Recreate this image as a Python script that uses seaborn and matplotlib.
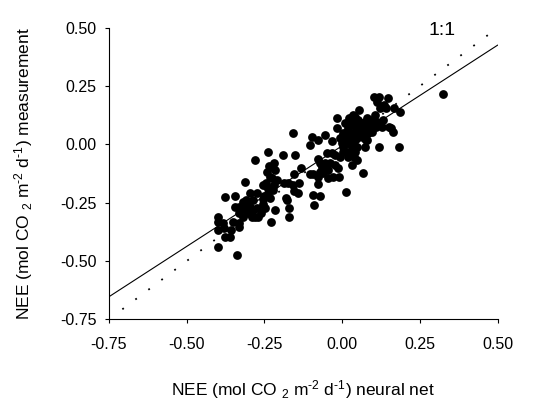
import matplotlib
matplotlib.use('Agg')
import matplotlib.pyplot as plt
import numpy as np
import seaborn as sns

nn_x = [
    -0.398, -0.398, -0.398, -0.401, -0.380, -0.377, -0.377, -0.359, -0.345, -0.345,
    -0.339, -0.331, -0.331, -0.331, -0.331, -0.320, -0.309, -0.313, -0.308, -0.302,
    -0.295, -0.295, -0.291, -0.288, -0.280, -0.280, -0.273, -0.270, -0.262, -0.254,
    -0.254, -0.252, -0.245, -0.243, -0.241, -0.238, -0.234, -0.230, -0.227, -0.227,
    -0.222, -0.218, -0.216, -0.216, -0.211, -0.191, -0.187, -0.180, -0.179, -0.173,
    -0.170, -0.170, -0.157, -0.155, -0.152, -0.155, -0.141, -0.138, -0.134, -0.104,
    -0.098, -0.095, -0.093, -0.091, -0.077, -0.077, -0.077, -0.072, -0.072, -0.070,
    -0.066, -0.056, -0.050, -0.047, -0.045, -0.039, -0.034, -0.032, -0.029, -0.023,
    -0.018, -0.013, -0.009, -0.007, -0.016, -0.007, -0.002, 0.004, 0.001, 0.009,
    0.014, 0.012, 0.017, 0.020, 0.023, 0.025, 0.027, 0.030, 0.030, 0.034,
    0.036, 0.038, 0.041, 0.044, 0.046, 0.049, 0.052, 0.055, 0.057, 0.060,
    0.063, 0.068, 0.070, 0.073, 0.077, 0.079, 0.081, 0.087, 0.095, 0.100,
    0.102, 0.105, 0.109, 0.113, 0.119, 0.119, 0.121, 0.127, 0.130, 0.134,
    0.140, 0.148, 0.151, 0.158, 0.164, 0.166, 0.184, 0.186, 0.325,
    0.023, 0.034, 0.041, 0.009, 0.014, 0.027, 0.036, 0.046, 0.055, 0.066,
    0.083, 0.090, 0.098, 0.111, 0.004, 0.020, 0.041, -0.002, 0.012, 0.049,
    0.079, 0.073,
    -0.308, -0.286, -0.275, -0.248, -0.238, -0.232, -0.232, -0.220, -0.254, -0.318,
    -0.350, -0.361, -0.384, -0.302, -0.157, -0.061, -0.056, -0.023, -0.077, -0.104,
]
meas_y = [
    -0.313, -0.332, -0.367, -0.439, -0.360, -0.396, -0.227, -0.367, -0.220, -0.267,
    -0.475, -0.267, -0.296, -0.339, -0.353, -0.246, -0.267, -0.160, -0.281, -0.296,
    -0.210, -0.267, -0.310, -0.281, -0.310, -0.067, -0.210, -0.310, -0.296, -0.257,
    -0.236, -0.222, -0.164, -0.117, -0.181, -0.031, -0.092, -0.332, -0.096, -0.146,
    -0.196, -0.081, -0.110, -0.281, -0.153, -0.046, -0.164, -0.232, -0.239, -0.164,
    -0.274, -0.310, 0.050, -0.127, -0.046, -0.199, -0.207, -0.164, -0.103, -0.003,
    0.033, -0.127, -0.217, -0.260, 0.019, -0.063, -0.171, -0.222, -0.081, -0.117,
    -0.096, 0.040, -0.036, -0.146, -0.110, -0.081, -0.039, 0.016, -0.139, -0.046,
    0.111, -0.103, -0.139, -0.053, 0.069, 0.026, 0.004, 0.047, -0.010, 0.019,
    -0.031, -0.203, 0.069, 0.004, 0.033, -0.039, 0.083, -0.010, -0.089, 0.104,
    0.047, -0.053, 0.019, 0.076, -0.067, 0.054, 0.104, 0.147, 0.040, 0.090,
    0.062, -0.124, 0.026, 0.097, 0.019, 0.062, 0.111, 0.083, 0.054, 0.104,
    0.204, 0.126, 0.076, 0.183, 0.204, -0.010, 0.154, 0.076, 0.104, 0.169,
    0.154, 0.197, 0.076, 0.069, 0.054, 0.154, -0.010, 0.140, 0.216,
    0.111, 0.126, 0.119, 0.090, 0.054, 0.019, 0.004, 0.026, 0.047, 0.083,
    0.047, 0.104, 0.076, 0.097, -0.031, -0.053, -0.031, 0.033, 0.004, -0.010,
    0.019, -0.010,
    -0.239, -0.239, -0.274, -0.274, -0.210, -0.139, -0.232, -0.174, -0.174, -0.310,
    -0.332, -0.396, -0.339, -0.260, -0.174, -0.124, -0.081, -0.089, -0.139, -0.127,
]

# fitted regression line and 1:1 reference
fit_slope = 0.863
fit_intercept = -0.006
fit_x = np.array([-0.75, 0.5])
one_x = [-0.707, 0.5]
one_y = [-0.707, 0.5]

ticks = [-0.75, -0.50, -0.25, 0.00, 0.25, 0.50]

sns.set_theme(style='ticks')
plt.rcParams['font.family'] = ['Liberation Sans', 'DejaVu Sans']
plt.rcParams['axes.unicode_minus'] = False
plt.rcParams['mathtext.fontset'] = 'custom'
plt.rcParams['mathtext.rm'] = 'Liberation Sans'
plt.rcParams['mathtext.default'] = 'regular'

fig = plt.figure(figsize=(5.6, 4.05), dpi=100)
ax = fig.add_axes([0.1946, 0.2116, 0.6942, 0.72])

sns.lineplot(x=one_x, y=one_y, color='black', linewidth=1.3,
             linestyle=(0, (1, 8)), ax=ax)
sns.lineplot(x=fit_x, y=fit_slope * fit_x + fit_intercept, color='black',
             linewidth=0.8, ax=ax)
sns.scatterplot(x=nn_x, y=meas_y, color='black', s=40, linewidth=0, ax=ax,
                zorder=3)

ax.set_xlim(-0.75, 0.5)
ax.set_ylim(-0.75, 0.5)
ax.set_xticks(ticks)
ax.set_yticks(ticks)
ax.set_xticklabels([f'{t:.2f}' for t in ticks])
ax.set_yticklabels([f'{t:.2f}' for t in ticks])
ax.tick_params(axis='both', labelsize=11.5, length=3, width=0.8, color='black',
               labelcolor='black')
ax.tick_params(axis='x', pad=10)
ax.tick_params(axis='y', pad=6)

for side in ['top', 'right']:
    ax.spines[side].set_visible(False)
for side in ['left', 'bottom']:
    ax.spines[side].set_color('black')
    ax.spines[side].set_linewidth(0.8)

ax.set_xlabel(r'NEE (mol CO $_2$ m$^{\text{-2}}$ d$^{\text{-1}}$) neural net',
              fontsize=12.5, color='black')
ax.set_ylabel(r'NEE (mol CO $_2$ m$^{\text{-2}}$ d$^{\text{-1}}$) measurement',
              fontsize=12.5, color='black')
ax.xaxis.set_label_coords(0.5, -0.2)
ax.yaxis.set_label_coords(-0.19, 0.5)

ax.text(0.277, 0.469, '1:1', fontsize=14, color='black', ha='left',
        va='baseline', clip_on=False)

fig.savefig('out.png', dpi=100)
